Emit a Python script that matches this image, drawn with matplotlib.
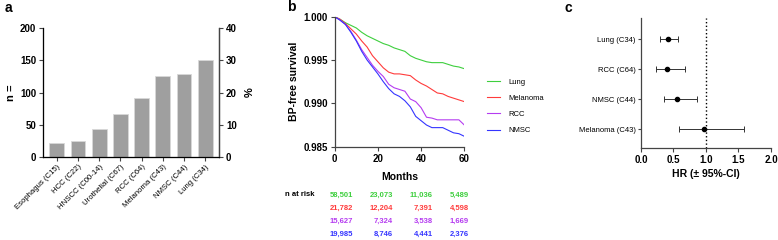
import numpy as np
import matplotlib
matplotlib.use('Agg')
import matplotlib.pyplot as plt

plt.rcParams['font.family'] = ['Liberation Sans', 'DejaVu Sans']

# panel a
cancers = ['Esophagus (C15)', 'HCC (C22)', 'HNSCC (C00-14)', 'Urothelial (C67)',
           'RCC (C64)', 'Melanoma (C43)', 'NMSC (C44)', 'Lung (C34)']
counts = [22, 25, 43, 66, 92, 126, 128, 151]

# panel b
months = [0, 2.5, 5, 7.5, 10, 12.5, 15, 17.5, 20, 22.5, 25, 27.5, 30,
          32.5, 35, 37.5, 40, 42.5, 45, 47.5, 50, 52.5, 55, 57.5, 60]
surv_lung = [1.0, 0.9997, 0.9993, 0.9990, 0.9987, 0.9982, 0.9978, 0.9975, 0.9972,
             0.9969, 0.9967, 0.9964, 0.9962, 0.9960, 0.9955, 0.9952, 0.9950, 0.9948,
             0.9947, 0.9947, 0.9947, 0.9945, 0.9943, 0.9942, 0.9940]
surv_mel = [1.0, 0.9997, 0.9992, 0.9986, 0.9980, 0.9972, 0.9965, 0.9955, 0.9948,
            0.9941, 0.9936, 0.9934, 0.9934, 0.9933, 0.9932, 0.9927, 0.9923, 0.9920,
            0.9916, 0.9912, 0.9911, 0.9908, 0.9906, 0.9904, 0.9902]
surv_rcc = [1.0, 0.9996, 0.9991, 0.9983, 0.9973, 0.9962, 0.9953, 0.9944, 0.9937,
            0.9931, 0.9922, 0.9918, 0.9916, 0.9914, 0.9905, 0.9902, 0.9895, 0.9884,
            0.9883, 0.9881, 0.9881, 0.9881, 0.9881, 0.9881, 0.9875]
surv_nmsc = [1.0, 0.9996, 0.9991, 0.9982, 0.9972, 0.9960, 0.9950, 0.9942, 0.9934,
             0.9925, 0.9917, 0.9911, 0.9908, 0.9903, 0.9896, 0.9885, 0.9880, 0.9875,
             0.9872, 0.9872, 0.9872, 0.9869, 0.9866, 0.9865, 0.9862]
risk_lung = ['58,501', '23,073', '11,036', '5,489']
risk_mel = ['21,782', '12,204', '7,391', '4,598']
risk_rcc = ['15,627', '7,324', '3,538', '1,669']
risk_nmsc = ['19,985', '8,746', '4,441', '2,376']

# panel c
hr_labels = ['Lung (C34)', 'RCC (C64)', 'NMSC (C44)', 'Melanoma (C43)']
hr = [0.42, 0.40, 0.55, 0.97]
hr_lo = [0.29, 0.23, 0.36, 0.58]
hr_hi = [0.57, 0.67, 0.86, 1.58]

c_green = '#3ecf3e'
c_red = '#ff3b3b'
c_purple = '#b53cf0'
c_blue = '#3535ff'
spine_c = '#444444'

W, H = 778, 240
fig = plt.figure(figsize=(W / 100, H / 100), dpi=100)

# ---- a ----
ax = fig.add_axes([0.0553, 0.3458, 0.2262, 0.5375])
x = np.arange(len(cancers))
ax.bar(x, counts, width=0.7, color='#9f9f9f', edgecolor='#d8d8d8', linewidth=0.6)
ax.set_xlim(-0.65, len(cancers) - 0.35)
ax.set_ylim(0, 200)
ax.set_yticks([0, 50, 100, 150, 200])
ax.set_xticks(x)
ax.set_xticklabels(cancers, rotation=45, ha='right', rotation_mode='anchor', fontsize=5.6)
ax.set_ylabel('n =', fontsize=8, fontweight='bold', labelpad=3)
for lab in ax.get_yticklabels():
    lab.set_fontweight('bold')
ax.tick_params(axis='y', labelsize=7, length=3, width=0.8, color=spine_c, pad=2)
ax.tick_params(axis='x', length=3, width=0.8, color=spine_c, pad=1.5)
ax.spines['top'].set_visible(False)
for s in ['left', 'right', 'bottom']:
    ax.spines[s].set_color(spine_c)
    ax.spines[s].set_linewidth(0.9)
ax2 = ax.twinx()
ax2.set_ylim(0, 40)
ax2.set_yticks([0, 10, 20, 30, 40])
for lab in ax2.get_yticklabels():
    lab.set_fontweight('bold')
ax2.tick_params(axis='y', labelsize=7, length=3, width=0.8, color=spine_c, pad=2)
ax2.set_ylabel('%', fontsize=8, fontweight='bold', labelpad=6)
ax2.spines['top'].set_visible(False)
ax2.spines['right'].set_color(spine_c)
ax2.spines['right'].set_linewidth(0.9)
fig.text(0.006, 0.965, 'a', fontsize=10, fontweight='bold', va='center')

# ---- b ----
bx = fig.add_axes([0.4302, 0.3888, 0.1666, 0.5416])
bx.plot(months, surv_lung, color=c_green, lw=0.8, label='Lung')
bx.plot(months, surv_mel, color=c_red, lw=0.8, label='Melanoma')
bx.plot(months, surv_rcc, color=c_purple, lw=0.8, label='RCC')
bx.plot(months, surv_nmsc, color=c_blue, lw=0.8, label='NMSC')
bx.set_xlim(0, 60)
bx.set_ylim(0.985, 1.0)
bx.set_xticks([0, 20, 40, 60])
bx.set_yticks([0.985, 0.990, 0.995, 1.000])
bx.set_yticklabels(['0.985', '0.990', '0.995', '1.000'])
for lab in bx.get_xticklabels() + bx.get_yticklabels():
    lab.set_fontweight('bold')
bx.tick_params(labelsize=7, length=3, width=0.8, color=spine_c, pad=2)
bx.set_ylabel('BP-free survival', fontsize=7.5, fontweight='bold', labelpad=3)
bx.set_xlabel('Months', fontsize=7.5, fontweight='bold', labelpad=6)
bx.spines['top'].set_visible(False)
bx.spines['right'].set_visible(False)
for s in ['left', 'bottom']:
    bx.spines[s].set_color(spine_c)
    bx.spines[s].set_linewidth(0.9)
bx.legend(loc='center left', bbox_to_anchor=(1.12, 0.31), frameon=False, fontsize=5.5,
          handlelength=1.8, labelspacing=1.15, handletextpad=1.0)
fig.text(0.369, 0.97, 'b', fontsize=10, fontweight='bold', va='center')

# n at risk table (right edges of columns, in pixels of the figure)
fig.text(300 / W, 1 - 195 / H, 'n at risk', fontsize=5.5, fontweight='bold',
         ha='center', va='center')
rows = [(risk_lung, c_green), (risk_mel, c_red), (risk_rcc, c_purple), (risk_nmsc, c_blue)]
row_px = [195, 208, 221, 234]
col_px = [353, 393, 433, 469]
for (vals, col), ry in zip(rows, row_px):
    for cxp, v in zip(col_px, vals):
        fig.text(cxp / W, 1 - ry / H, v, fontsize=5.5, fontweight='bold', color=col,
                 ha='right', va='center')

# ---- c ----
cx = fig.add_axes([0.8239, 0.3833, 0.1671, 0.5417])
ypos = np.arange(len(hr_labels))[::-1] + 1
err = [np.array(hr) - np.array(hr_lo), np.array(hr_hi) - np.array(hr)]
cx.errorbar(hr, ypos, xerr=err, fmt='o', color='black', ms=3.0, elinewidth=0.7,
            capsize=2.5, capthick=0.7, ecolor='#333333')
cx.axvline(1.0, color='black', ls=':', lw=1.0)
cx.set_xlim(0, 2.0)
cx.set_ylim(1 - 19 / 30, 4 + 21 / 30)
cx.set_xticks([0, 0.5, 1.0, 1.5, 2.0])
cx.set_xticklabels(['0.0', '0.5', '1.0', '1.5', '2.0'])
for lab in cx.get_xticklabels():
    lab.set_fontweight('bold')
cx.set_yticks(ypos)
cx.set_yticklabels(hr_labels, fontsize=5.5)
cx.tick_params(axis='x', labelsize=7, length=3, width=0.8, color=spine_c, pad=2)
cx.tick_params(axis='y', length=2.5, width=0.8, color=spine_c, pad=1.5)
cx.set_xlabel('HR (\u00b1 95%-CI)', fontsize=7.5, fontweight='bold', labelpad=3)
cx.spines['top'].set_visible(False)
cx.spines['right'].set_visible(False)
for s in ['left', 'bottom']:
    cx.spines[s].set_color(spine_c)
    cx.spines[s].set_linewidth(0.9)
fig.text(0.726, 0.965, 'c', fontsize=10, fontweight='bold', va='center')

fig.savefig('out.png', dpi=100)
